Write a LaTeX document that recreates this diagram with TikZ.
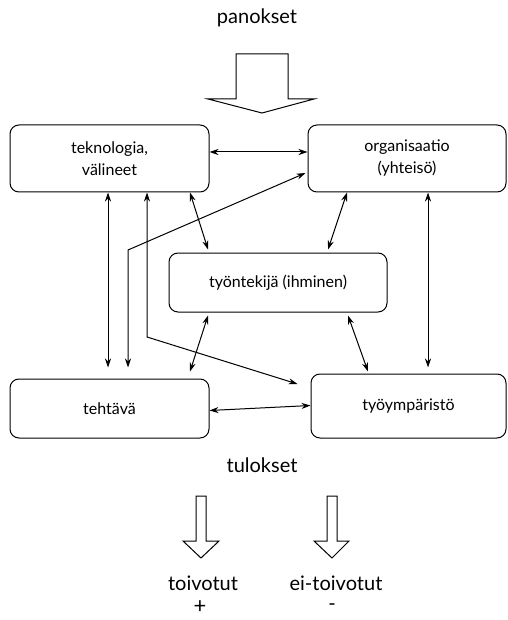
\documentclass[tikz,border=0pt]{standalone}
\usepackage{fontspec}
\setmainfont{Lato}
\usetikzlibrary{arrows.meta}
\begin{document}
\begin{tikzpicture}[>={Stealth[length=9pt,width=6pt]},x=1pt,y=-1pt,
	laatikko/.style={draw,rounded corners=9pt,line width=1pt,align=center,inner sep=0pt,
		font=\fontsize{16}{22}\selectfont},
	otsikko/.style={font=\fontsize{20}{24}\selectfont},
	nuoli/.style={<->,line width=1pt},
	isonuoli/.style={draw,line width=1pt,fill=white}]
	\useasboundingbox (0,0) rectangle (507,620);
	% laatikot
	\node[laatikko,minimum width=199pt,minimum height=67pt] (tek) at (109.5,158.5) {teknologia,\\välineet};
	\node[laatikko,minimum width=198pt,minimum height=67pt] (org) at (407,158.5) {organisaatio\\(yhteisö)};
	\node[laatikko,minimum width=218pt,minimum height=59pt] (tyo) at (278,282.5) {työntekijä (ihminen)};
	\node[laatikko,minimum width=199pt,minimum height=59pt] (teh) at (109.5,408.5) {tehtävä};
	\node[laatikko,minimum width=195pt,minimum height=64pt] (ymp) at (408.5,406) {työympäristö};
	% tekstit
	\node[otsikko] (panokset) at (257,18) {panokset};
	\node[otsikko] (tulokset) at (262,465) {tulokset};
	\node[otsikko] (toivotut) at (203,583) {toivotut};
	\node[otsikko] (eitoivotut) at (336,583) {ei-toivotut};
	\node[otsikko,font=\fontsize{22}{24}\selectfont,inner sep=0pt] (plus) at (200,607) {+};
	\node[otsikko,inner sep=0pt] (miinus) at (332,607) {-};
	% isot nuolet
	\draw[isonuoli] (236,54) -- (288,54) -- (288,99) -- (314,99) -- (262,113) -- (208,99) -- (236,99) -- cycle;
	\draw[isonuoli] (196,496) -- (206,496) -- (206,541) -- (219,541) -- (201,558) -- (183,541) -- (196,541) -- cycle;
	\draw[isonuoli] (327,496) -- (337,496) -- (337,541) -- (349,541) -- (332,558) -- (314,541) -- (327,541) -- cycle;
	% yhteydet
	\coordinate (k1) at (128,250);
	\coordinate (k2) at (147,337);
	\draw[nuoli] ([yshift=6.5pt]tek.east) -- ([yshift=6.5pt]org.west);
	\draw[nuoli] ([yshift=-2pt]teh.east) -- ([yshift=0.5pt]ymp.west);
	\draw[nuoli] ([xshift=-1.5pt]tek.south) -- ([xshift=-1.5pt,yshift=11pt]teh.north);
	\draw[nuoli] ([xshift=-2pt,yshift=-14.5pt]org.west) -- (k1) -- ([xshift=18.5pt,yshift=11pt]teh.north);
	\draw[nuoli] ([xshift=37.5pt]tek.south) -- (k2) -- ([xshift=-13pt,yshift=22pt]ymp.west);
	\draw[nuoli] ([xshift=80.5pt]tek.south) -- ([xshift=-70pt,yshift=3pt]tyo.north);
	\draw[nuoli] ([xshift=-60pt]org.south) -- ([xshift=50pt,yshift=3pt]tyo.north);
	\draw[nuoli] ([xshift=21pt]org.south) -- ([xshift=19.5pt,yshift=6pt]ymp.north);
	\draw[nuoli] ([xshift=-70pt,yshift=-3pt]tyo.south) -- ([xshift=80.5pt,yshift=7pt]teh.north);
	\draw[nuoli] ([xshift=70pt,yshift=-3pt]tyo.south) -- ([xshift=-40.5pt,yshift=2pt]ymp.north);
\end{tikzpicture}
\end{document}
